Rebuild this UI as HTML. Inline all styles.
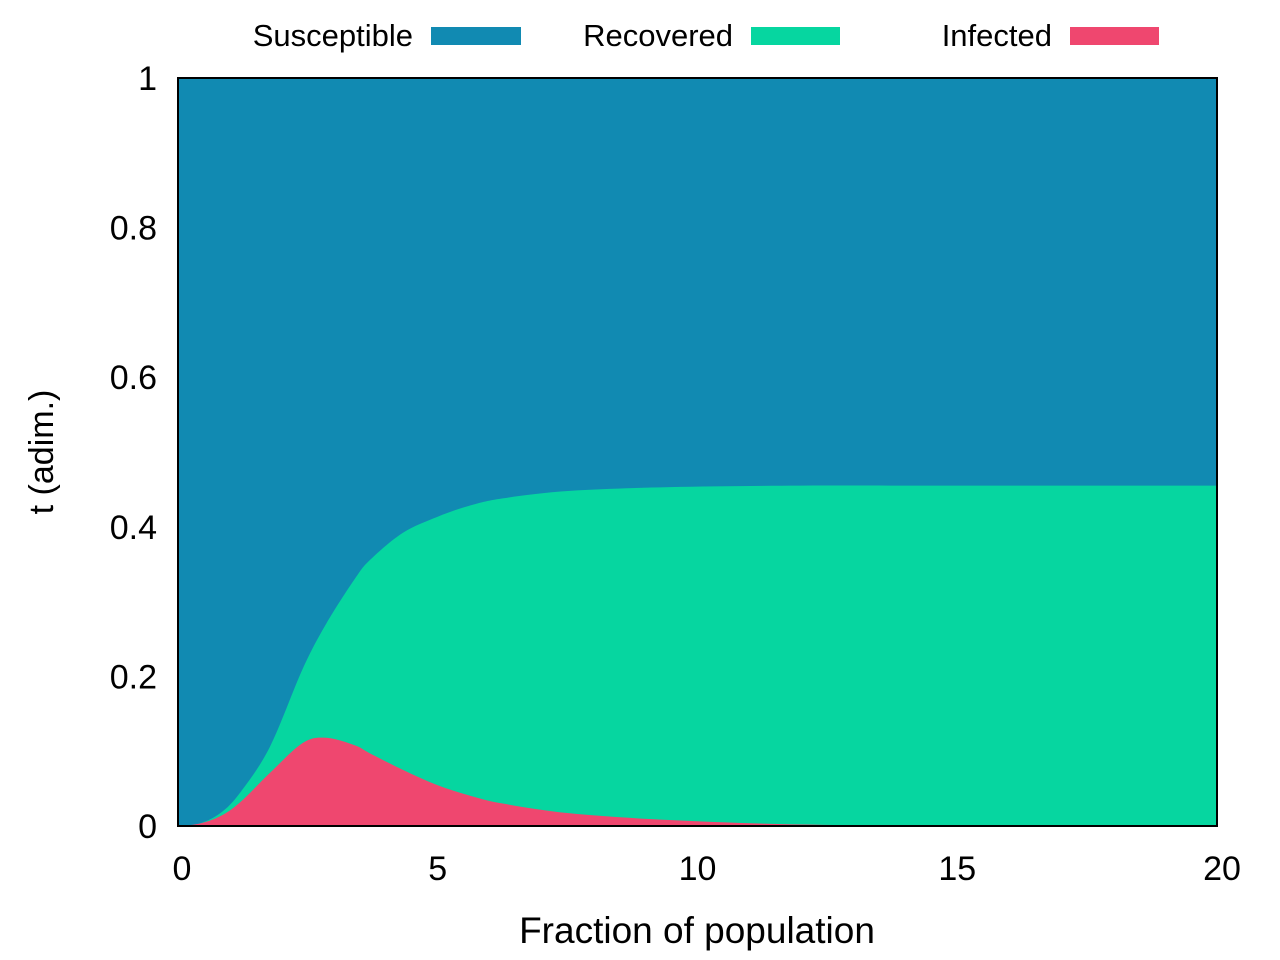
<!DOCTYPE html>
<html><head><meta charset="utf-8"><style>
html,body{margin:0;padding:0;background:#fff;}
svg{display:block;font-family:"Liberation Sans",Arial,sans-serif;}
</style></head><body>
<svg id="chart" width="1280" height="960">
  <g id="areas"></g>
  <rect x="178" y="78" width="1039" height="748" fill="none" stroke="#000" stroke-width="2"/>
  <g id="ticks"></g>
  <text x="697" y="943" font-size="37" text-anchor="middle">Fraction of population</text>
  <text transform="translate(53,452) rotate(-90)" font-size="34" text-anchor="middle">t (adim.)</text>
  <g>
    <g>
      <text x="413" y="46" font-size="31" text-anchor="end">Susceptible</text>
      <rect x="431" y="27" width="90" height="18" fill="#118ab2"/>
    </g>
    <g>
      <text x="733" y="46" font-size="31" text-anchor="end">Recovered</text>
      <rect x="751" y="27" width="89" height="18" fill="#06d6a0"/>
    </g>
    <g>
      <text x="1052" y="46" font-size="31" text-anchor="end">Infected</text>
      <rect x="1070" y="27" width="89" height="18" fill="#ef476f"/>
    </g>
  </g>
</svg>
<script>
const xs =        [0, 0.4, 0.81, 1.2, 1.77, 2.4, 2.85, 3.4, 3.7, 4.33, 4.98, 5.6, 6.25, 7.54, 9.46, 12, 15, 20];
const recovered = [0, 0.003, 0.017, 0.045, 0.106, 0.21, 0.27, 0.33, 0.356, 0.392, 0.413, 0.428, 0.438, 0.448, 0.453, 0.455, 0.455, 0.455];
const infected =  [0, 0.003, 0.013, 0.032, 0.071, 0.111, 0.118, 0.108, 0.097, 0.075, 0.055, 0.041, 0.030, 0.017, 0.008, 0.002, 0.001, 0.0005];
const xTicks = [0, 5, 10, 15, 20];
const yTicks = [0, 0.2, 0.4, 0.6, 0.8, 1];
const yTickLabels = ["0", "0.2", "0.4", "0.6", "0.8", "1"];

const X0=178, X1=1217, Y0=826, Y1=78;
const sx = v => X0 + (v/20)*(X1-X0);
const sy = v => Y0 - v*(Y0-Y1);
const NS="http://www.w3.org/2000/svg";

function curve(vals){
  const p = xs.map((x,i)=>[sx(x), sy(vals[i])]);
  let d = `M${p[0][0]},${p[0][1]}`;
  for(let i=0;i<p.length-1;i++){
    const p0=p[Math.max(i-1,0)], p1=p[i], p2=p[i+1], p3=p[Math.min(i+2,p.length-1)];
    const c1=[p1[0]+(p2[0]-p0[0])/6, p1[1]+(p2[1]-p0[1])/6];
    const c2=[p2[0]-(p3[0]-p1[0])/6, p2[1]-(p3[1]-p1[1])/6];
    d += ` C${c1[0]},${c1[1]} ${c2[0]},${c2[1]} ${p2[0]},${p2[1]}`;
  }
  return d;
}
const areas=document.getElementById('areas');
function area(vals, color, name){
  const el=document.createElementNS(NS,'path');
  el.setAttribute('d', curve(vals)+` L${sx(20)},${Y0} L${sx(0)},${Y0} Z`);
  el.setAttribute('fill', color);
  
  
  areas.appendChild(el);
}
const bg=document.createElementNS(NS,'rect');
bg.setAttribute('x',X0);bg.setAttribute('y',Y1);bg.setAttribute('width',X1-X0);bg.setAttribute('height',Y0-Y1);bg.setAttribute('fill','#118ab2');


areas.appendChild(bg);
area(recovered,'#06d6a0','recovered-area');
area(infected,'#ef476f','infected-area');

const ticks=document.getElementById('ticks');
xTicks.forEach(t=>{
  const tx=document.createElementNS(NS,'text');
  tx.setAttribute('x', sx(t)+ (t===0?4:(t===20?5:0))); tx.setAttribute('y', 880);
  tx.setAttribute('font-size','34'); tx.setAttribute('text-anchor','middle');
  tx.textContent=String(t);
  
  
  ticks.appendChild(tx);
});
yTicks.forEach((t,i)=>{
  const tx=document.createElementNS(NS,'text');
  tx.setAttribute('x', 157); tx.setAttribute('y', sy(t)+12);
  tx.setAttribute('font-size','34'); tx.setAttribute('text-anchor','end');
  tx.textContent=yTickLabels[i];
  
  
  ticks.appendChild(tx);
});
</script>
</body></html>
